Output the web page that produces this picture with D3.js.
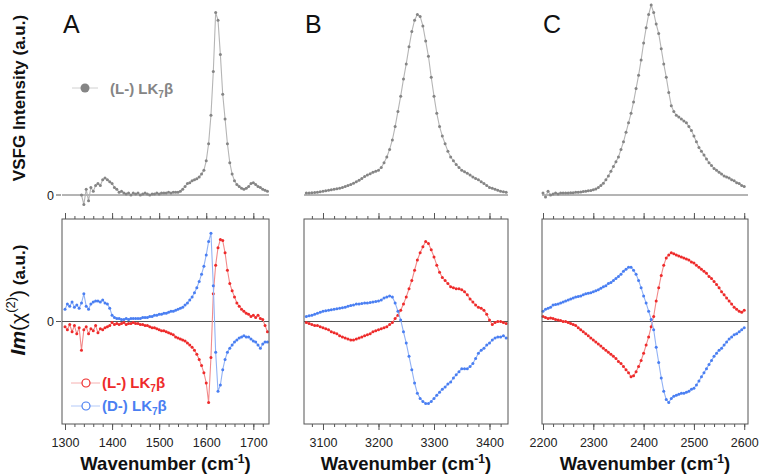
<!DOCTYPE html>
<html><head><meta charset="utf-8">
<script src="https://cdn.jsdelivr.net/npm/d3@7"></script>
<style>body{margin:0;background:#fff}svg{display:block;font-family:"Liberation Sans",Arial,sans-serif}</style>
</head><body>
<svg id="c" width="762" height="475"></svg>
<script>
// ---------- DATA ----------
const wnA = [1300,1305,1310,1315,1320,1325,1330,1335,1340,1345,1350,1355,1360,1365,1370,1375,1380,1385,1390,1395,1400,
1405,1410,1415,1420,1425,1430,1435,1440,1445,1450,1455,1460,1465,1470,1475,1480,1485,1490,1495,1500,
1505,1510,1515,1520,1525,1530,1535,1540,1545,1550,1555,1560,1565,1570,1575,1580,1585,1590,1595,1600,
1605,1610,1615,1620,1625,1630,1635,1640,1645,1650,1655,1660,1665,1670,1675,1680,1685,1690,1695,1700,
1705,1710,1715,1720,1725,1730];
const vsfgA = [null,null,null,null,null,null,null,
0.0,-0.05,0.03,-0.03,0.04,0.02,0.05,0.06,0.05,0.08,0.09,0.08,0.07,0.06,0.04,0.03,0.015,0.02,
0.01,0.005,0.01,0.0,0.01,0.005,0.01,0.0,0.005,0.01,0.005,0.0,0.005,0.005,0.01,0.005,0.01,0.01,0.01,0.015,0.01,0.015,0.015,0.015,
0.02,0.03,0.045,0.06,0.065,0.075,0.08,0.085,0.095,0.11,0.13,0.18,0.27,0.42,0.65,0.96,0.92,0.74,0.53,0.4,0.27,0.17,0.11,0.075,
0.055,0.045,0.035,0.03,0.035,0.045,0.06,0.065,0.055,0.045,0.04,0.03,0.025,0.02];
const imL_A = [-0.05,-0.08,-0.03,-0.1,-0.04,-0.12,-0.06,-0.28,-0.08,-0.05,-0.12,-0.07,-0.09,-0.04,-0.11,-0.07,-0.08,-0.06,-0.05,-0.04,-0.01,
-0.03,-0.02,-0.03,-0.02,-0.01,-0.03,-0.02,-0.02,-0.01,-0.02,-0.02,-0.03,-0.03,-0.04,-0.04,-0.05,-0.06,-0.06,-0.07,-0.08,
-0.09,-0.09,-0.1,-0.11,-0.12,-0.13,-0.15,-0.16,-0.17,-0.18,-0.19,-0.21,-0.23,-0.25,-0.28,-0.32,-0.37,-0.43,-0.5,-0.6,
-0.79,-0.35,0.27,0.55,0.72,0.8,0.79,0.67,0.5,0.37,0.3,0.24,0.18,0.15,0.12,0.1,0.08,0.07,0.05,0.06,
0.04,0.06,0.03,0.02,-0.04,-0.1];
const imD_A = [0.12,0.17,0.15,0.19,0.14,0.16,0.13,0.18,0.27,0.15,0.12,0.17,0.19,0.2,0.2,0.19,0.21,0.18,0.17,0.13,0.06,
0.04,0.03,0.03,0.02,0.02,0.03,0.02,0.03,0.03,0.03,0.03,0.03,0.04,0.04,0.04,0.05,0.05,0.06,0.06,0.07,
0.07,0.08,0.08,0.09,0.1,0.1,0.11,0.12,0.13,0.14,0.16,0.18,0.21,0.24,0.28,0.33,0.39,0.46,0.54,0.65,
0.78,0.86,0.35,-0.3,-0.68,-0.62,-0.47,-0.37,-0.3,-0.26,-0.23,-0.2,-0.18,-0.16,-0.15,-0.14,-0.15,-0.15,-0.17,-0.19,
-0.2,-0.23,-0.26,-0.22,-0.2,-0.2];

const wnB = [3070,3075,3080,3085,3090,3095,3100,3105,3110,3115,3120,3125,3130,3135,3140,3145,3150,3155,3160,3165,3170,3175,3180,3185,3190,3195,3200,
3205,3210,3215,3220,3225,3230,3235,3240,3245,3250,3255,3260,3265,3270,3275,3280,3285,3290,3295,3300,
3305,3310,3315,3320,3325,3330,3335,3340,3345,3350,3355,3360,3365,3370,3375,3380,3385,3390,3395,3400,3405,3410,3415,3420,3425,3430];
const vsfgB = [0.01,0.01,0.012,0.013,0.015,0.017,0.02,0.022,0.025,0.028,0.03,0.033,0.036,0.04,0.045,0.05,0.055,0.062,0.07,0.078,0.087,0.097,0.105,0.112,0.12,0.125,0.13,
0.145,0.17,0.2,0.24,0.29,0.36,0.44,0.52,0.61,0.69,0.78,0.86,0.92,0.95,0.94,0.89,0.81,0.73,0.62,0.52,
0.43,0.36,0.31,0.27,0.23,0.2,0.18,0.16,0.145,0.13,0.122,0.115,0.105,0.095,0.087,0.08,0.07,0.06,0.05,0.04,0.035,0.03,0.025,0.02,0.017,0.015];
const imL_B = [-0.01,-0.02,-0.03,-0.04,-0.04,-0.05,-0.06,-0.07,-0.08,-0.1,-0.11,-0.12,-0.14,-0.15,-0.16,-0.17,-0.18,-0.18,-0.17,-0.16,-0.15,-0.14,-0.13,-0.12,-0.1,-0.09,-0.08,
-0.07,-0.06,-0.05,-0.03,-0.01,0.03,0.06,0.11,0.17,0.24,0.32,0.4,0.5,0.6,0.67,0.73,0.78,0.76,0.7,0.63,
0.55,0.48,0.43,0.4,0.37,0.34,0.33,0.32,0.32,0.31,0.29,0.26,0.22,0.19,0.16,0.14,0.13,0.11,0.07,0.015,-0.03,-0.01,0.0,0.0,-0.01,-0.02];
const imD_B = [0.05,0.055,0.06,0.07,0.08,0.09,0.1,0.105,0.11,0.115,0.12,0.125,0.13,0.135,0.14,0.15,0.155,0.16,0.17,0.17,0.175,0.18,0.18,0.185,0.19,0.195,0.2,
0.21,0.23,0.24,0.25,0.24,0.18,0.1,0.015,-0.1,-0.21,-0.34,-0.47,-0.6,-0.7,-0.75,-0.78,-0.8,-0.8,-0.78,-0.75,
-0.72,-0.69,-0.66,-0.64,-0.61,-0.59,-0.55,-0.52,-0.49,-0.46,-0.46,-0.46,-0.44,-0.41,-0.36,-0.31,-0.28,-0.26,-0.23,-0.21,-0.18,-0.16,-0.15,-0.15,-0.14,-0.16];

const wnC = [2200,2205,2210,2215,2220,2225,2230,2235,2240,2245,2250,2255,2260,2265,2270,2275,2280,2285,2290,2295,2300,
2305,2310,2315,2320,2325,2330,2335,2340,2345,2350,2355,2360,2365,2370,2375,2380,2385,2390,2395,2400,
2405,2410,2415,2420,2425,2430,2435,2440,2445,2450,2455,2460,2465,2470,2475,2480,2485,2490,2495,2500,
2505,2510,2515,2520,2525,2530,2535,2540,2545,2550,2555,2560,2565,2570,2575,2580,2585,2590,2595,2600];
const vsfgC = [0.01,-0.01,0.02,0.0,0.005,0.01,0.005,0.01,0.01,0.01,0.01,0.012,0.012,0.014,0.015,0.016,0.018,0.02,0.022,0.024,0.027,
0.032,0.04,0.05,0.062,0.08,0.1,0.125,0.15,0.175,0.2,0.24,0.28,0.33,0.38,0.43,0.49,0.56,0.63,0.71,0.8,
0.88,0.95,1.0,0.96,0.9,0.85,0.77,0.69,0.62,0.54,0.47,0.44,0.42,0.41,0.4,0.39,0.38,0.36,0.34,0.31,
0.28,0.25,0.23,0.21,0.19,0.17,0.155,0.14,0.13,0.12,0.11,0.1,0.095,0.09,0.08,0.075,0.065,0.06,0.05,0.045];
const imL_C = [0.05,0.04,0.03,0.035,0.03,0.02,0.015,0.01,0.0,0.0,-0.01,-0.02,-0.03,-0.04,-0.06,-0.08,-0.1,-0.12,-0.14,-0.16,-0.18,
-0.2,-0.22,-0.24,-0.26,-0.28,-0.3,-0.32,-0.34,-0.36,-0.39,-0.41,-0.44,-0.47,-0.5,-0.54,-0.53,-0.49,-0.44,-0.38,-0.31,
-0.23,-0.15,-0.05,0.05,0.2,0.33,0.45,0.55,0.62,0.65,0.67,0.66,0.65,0.64,0.63,0.62,0.61,0.6,0.58,0.57,
0.55,0.53,0.51,0.49,0.47,0.44,0.42,0.39,0.36,0.33,0.29,0.26,0.23,0.2,0.17,0.14,0.12,0.1,0.09,0.11];
const imD_C = [0.1,0.12,0.13,0.14,0.16,0.165,0.17,0.18,0.19,0.2,0.21,0.22,0.23,0.24,0.245,0.25,0.26,0.27,0.275,0.28,0.29,
0.3,0.31,0.325,0.34,0.35,0.37,0.38,0.4,0.42,0.44,0.46,0.49,0.51,0.53,0.53,0.5,0.46,0.4,0.33,0.25,
0.18,0.1,0.02,-0.08,-0.25,-0.4,-0.55,-0.68,-0.76,-0.79,-0.75,-0.73,-0.72,-0.71,-0.7,-0.7,-0.69,-0.68,-0.66,-0.65,
-0.62,-0.58,-0.54,-0.5,-0.46,-0.42,-0.38,-0.34,-0.31,-0.28,-0.26,-0.23,-0.2,-0.17,-0.15,-0.13,-0.12,-0.1,-0.08,-0.06];

const ticksA = [1300,1400,1500,1600,1700];
const ticksB = [3100,3200,3300,3400];
const ticksC = [2200,2300,2400,2500,2600];
const minorA = [1300,1320,1340,1360,1380,1400,1420,1440,1460,1480,1500,1520,1540,1560,1580,1600,1620,1640,1660,1680,1700,1720];
const minorB = [3080,3100,3120,3140,3160,3180,3200,3220,3240,3260,3280,3300,3320,3340,3360,3380,3400,3420];
const minorC = [2200,2220,2240,2260,2280,2300,2320,2340,2360,2380,2400,2420,2440,2460,2480,2500,2520,2540,2560,2580,2600];
const panelLetters = ["A","B","C"];
const seriesNames = ["(L-) LK", "(D-) LK"];

// ---------- STYLE / LAYOUT ----------
const GRAY = "#858585", RED = "#ee2b2b", BLUE = "#4a7ff2";
const GRAY_L = "#b5b5b5", RED_L = "#f28a8a", BLUE_L = "#92b2f5";
const svg = d3.select("#c");
const boxTop = 219, boxBot = 424;
const yTop = d3.scaleLinear().domain([0, 1]).range([195, 5]);
const yBot = d3.scaleLinear().domain([-1, 1]).range([boxBot, boxTop]);

const panels = [
  {px:[62,269], dom:[1293.6,1733.3], wn:wnA, top:vsfgA, L:imL_A, D:imD_A, ticks:ticksA, minor:minorA},
  {px:[304,508], dom:[3065.8,3433.3], wn:wnB, top:vsfgB, L:imL_B, D:imD_B, ticks:ticksB, minor:minorB},
  {px:[542,748], dom:[2198,2607.5], wn:wnC, top:vsfgC, L:imL_C, D:imD_C, ticks:ticksC, minor:minorC}
];

function drawSeries(g, x, y, wn, vals, col, lcol) {
  const pts = wn.map((w,i)=>[w, vals[i]]).filter(d=>d[1]!==null);
  g.append("path").attr("d", d3.line().x(d=>x(d[0])).y(d=>y(d[1]))(pts))
    .attr("fill","none").attr("stroke",lcol).attr("stroke-width",1.1);
  g.selectAll(null).data(pts).enter().append("circle")
    .attr("cx",d=>x(d[0])).attr("cy",d=>y(d[1])).attr("r",1.5).attr("fill",col);
}

panels.forEach((p, k) => {
  const x = d3.scaleLinear().domain(p.dom).range(p.px);
  const g = svg.append("g");
  g.append("line").attr("x1",p.px[0]).attr("x2",p.px[1]).attr("y1",yTop(0)).attr("y2",yTop(0))
    .attr("stroke","#6a6a6a").attr("stroke-width",1);
  drawSeries(g, x, yTop, p.wn, p.top, GRAY, GRAY_L);
  g.append("line").attr("x1",p.px[0]).attr("x2",p.px[1]).attr("y1",yBot(0)).attr("y2",yBot(0))
    .attr("stroke","#555").attr("stroke-width",1);
  drawSeries(g, x, yBot, p.wn, p.L, RED, RED_L);
  drawSeries(g, x, yBot, p.wn, p.D, BLUE, BLUE_L);
  g.append("rect").attr("x",p.px[0]).attr("y",boxTop).attr("width",p.px[1]-p.px[0]).attr("height",boxBot-boxTop)
    .attr("fill","none").attr("stroke","#555").attr("stroke-width",1);
  const axB = g.append("g").attr("transform",`translate(0,${boxBot})`)
    .call(d3.axisBottom(x).tickValues(p.ticks).tickSize(6).tickPadding(8).tickFormat(d3.format("d")));
  const axBm = g.append("g").attr("transform",`translate(0,${boxBot})`)
    .call(d3.axisBottom(x).tickValues(p.minor).tickSize(3).tickFormat(""));
  const axT = g.append("g").attr("transform",`translate(0,${boxTop})`)
    .call(d3.axisTop(x).tickValues(p.ticks).tickSize(6).tickFormat(""));
  const axTm = g.append("g").attr("transform",`translate(0,${boxTop})`)
    .call(d3.axisTop(x).tickValues(p.minor).tickSize(3).tickFormat(""));
  [axB,axBm,axT,axTm].forEach(a=>{
    a.select(".domain").remove();
    a.selectAll("line").attr("stroke","#555");
    a.selectAll("text").attr("font-size",12.5).attr("fill","#222").attr("font-family",'"Liberation Sans",Arial,sans-serif');
  });
  const t = g.append("text").attr("x",(p.px[0]+p.px[1])/2).attr("y",470).attr("text-anchor","middle")
    .attr("font-size",18.5).attr("font-weight","bold").attr("fill","#111");
  t.append("tspan").text("Wavenumber (cm");
  t.append("tspan").attr("font-size",12).attr("dy",-7).text("-1");
  t.append("tspan").attr("dy",7).text(")");
  g.append("text").attr("x",p.px[0]+1).attr("y",33).attr("font-size",25).attr("fill","#111").text(panelLetters[k]);
});

[[yTop(0)],[yBot(0)]].forEach(([yy])=>{
  svg.append("line").attr("x1",56).attr("x2",61).attr("y1",yy).attr("y2",yy).attr("stroke","#555");
  svg.append("text").attr("x",54).attr("y",yy+4.5).attr("text-anchor","end").attr("font-size",12.5).attr("fill","#222").text("0");
});

svg.append("text").attr("transform","translate(25,98) rotate(-90)").attr("text-anchor","middle")
  .attr("font-size",17).attr("font-weight","bold").attr("fill","#111").text("VSFG Intensity (a.u.)");
const yl = svg.append("text").attr("transform","translate(25,300) rotate(-90)").attr("text-anchor","middle")
  .attr("font-size",21).attr("fill","#111");
yl.append("tspan").attr("font-weight","bold").attr("font-style","italic").text("Im");
yl.append("tspan").text("(χ");
yl.append("tspan").attr("font-size",13).attr("dy",-10).text("(2)");
yl.append("tspan").attr("dy",10).text(")");
yl.append("tspan").attr("font-weight","bold").attr("font-size",17).text(" (a.u.)");

function legendText(xx, yy, name, col) {
  const tx = svg.append("text").attr("x",xx).attr("y",yy).attr("font-size",15).attr("font-weight","bold").attr("fill",col);
  tx.append("tspan").text(name);
  tx.append("tspan").attr("font-size",10).attr("dy",4).text("7");
  tx.append("tspan").attr("dy",-4).text("β");
}
svg.append("line").attr("x1",72).attr("x2",98).attr("y1",88).attr("y2",88).attr("stroke","#d0d0d0");
svg.append("circle").attr("cx",85).attr("cy",88).attr("r",4.5).attr("fill",GRAY);
legendText(110, 93.5, seriesNames[0], GRAY);

[[383, RED, "#f6b0b0", seriesNames[0]],[406, BLUE, "#b3c9f8", seriesNames[1]]].forEach(([yy,c,lc,nm])=>{
  svg.append("line").attr("x1",71).attr("x2",100).attr("y1",yy).attr("y2",yy).attr("stroke",lc);
  svg.append("circle").attr("cx",86).attr("cy",yy).attr("r",4).attr("fill","#fff").attr("stroke",c).attr("stroke-width",1.2);
  legendText(102, yy+5, nm, c);
});
</script>
</body></html>
